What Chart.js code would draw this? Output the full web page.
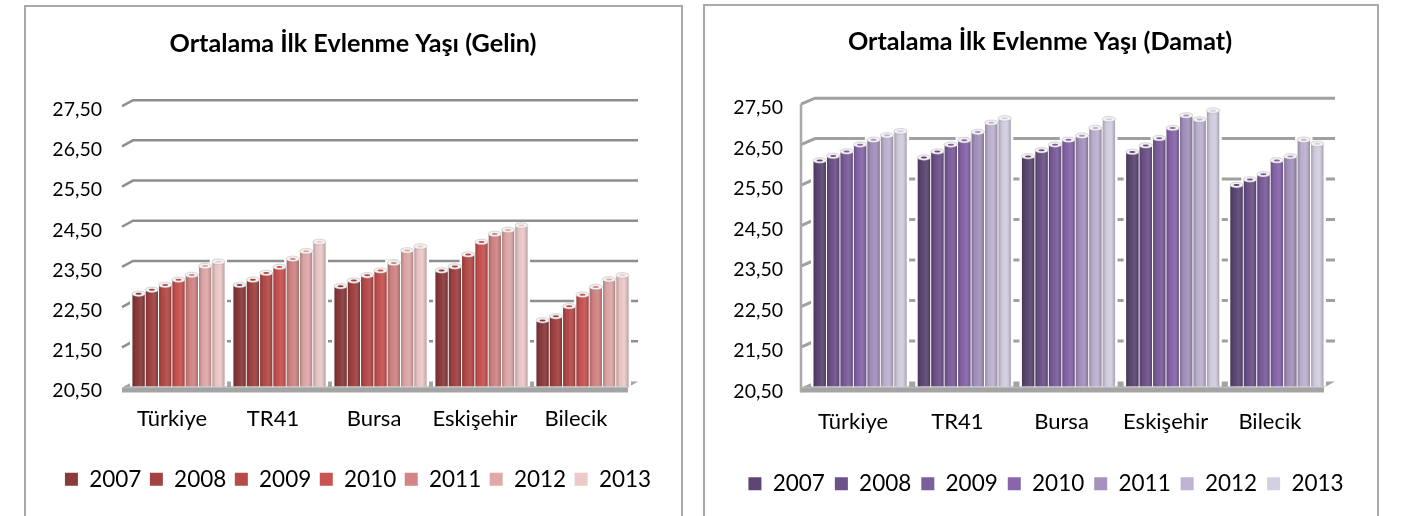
<!DOCTYPE html>
<html>
  <head>
   <meta charset='utf-8'>
   <title>Ortalama İlk Evlenme Yaşı</title>
   <script src="https://cdnjs.cloudflare.com/ajax/libs/Chart.js/4.4.1/chart.umd.min.js"></script>
   <style>
     html, body { margin: 0; padding: 0; background: #fff; overflow: hidden; }
     body { width: 1411px; height: 516px; position: relative; }
     .frame { position: absolute; box-sizing: border-box; border: 2px solid #a8a8ad; border-bottom: 0; height: 530px; }
     #frame1 { left: 24px; top: 5px; width: 659px; }
     #frame2 { left: 703px; top: 4px; width: 676px; }
     canvas { display: block; }
   </style>
  </head>
  <body>
    <div class="frame" id="frame1"><canvas id="chart_gelin" width="655" height="509"></canvas></div>
    <div class="frame" id="frame2"><canvas id="chart_damat" width="672" height="510"></canvas></div>
    <script>
      var places = ['Türkiye', 'TR41', 'Bursa', 'Eskişehir', 'Bilecik'];
      var years = ['2007', '2008', '2009', '2010', '2011', '2012', '2013'];

      var gelin2007 = [22.78, 23.00, 22.97, 23.36, 22.12];
      var gelin2008 = [22.88, 23.13, 23.11, 23.46, 22.22];
      var gelin2009 = [23.00, 23.30, 23.24, 23.76, 22.47];
      var gelin2010 = [23.13, 23.45, 23.36, 24.07, 22.76];
      var gelin2011 = [23.25, 23.65, 23.55, 24.27, 22.95];
      var gelin2012 = [23.47, 23.84, 23.86, 24.37, 23.14];
      var gelin2013 = [23.58, 24.07, 23.96, 24.48, 23.24];

      var damat2007 = [26.06, 26.13, 26.16, 26.27, 25.45];
      var damat2008 = [26.17, 26.28, 26.31, 26.43, 25.59];
      var damat2009 = [26.28, 26.45, 26.45, 26.61, 25.72];
      var damat2010 = [26.45, 26.56, 26.57, 26.86, 26.06];
      var damat2011 = [26.57, 26.76, 26.67, 27.17, 26.16];
      var damat2012 = [26.68, 26.99, 26.86, 27.07, 26.57];
      var damat2013 = [26.78, 27.10, 27.08, 27.29, 26.47];

      var redColors = ['#8b3a3a', '#a24241', '#b64b49', '#c95350', '#d28584', '#e0a9a8', '#edcaca'];
      var purpleColors = ['#5d4674', '#6d5289', '#7c5e9c', '#8766ab', '#a592bd', '#bfb3d2', '#d5cfe2'];

      var fontName = 'Lato, "Open Sans", sans-serif';

      // fake 3d: floor, back wall lines, halos and round bar tops
      var depthPlugin = {
        id: 'depth',
        beforeDatasetsDraw: function(chart, args, o) {
          var c = chart.ctx, y = chart.scales.y, a = chart.chartArea;
          var base = y.getPixelForValue(20.5);
          c.save();
          // floor
          c.fillStyle = '#a4a4a4';
          c.beginPath();
          c.moveTo(o.fl, base + o.fdy);
          c.lineTo(o.bl, base + o.bdy);
          c.lineTo(o.br, base + o.bdy);
          c.lineTo(o.fr, base + o.fdy);
          c.closePath();
          c.fill();
          c.fillRect(o.fl, base + o.fdy, o.fr - o.fl, 5);
          c.strokeStyle = o.gridColor;
          c.lineWidth = o.gridWidth;
          y.ticks.forEach(function(t) {
            var p = y.getPixelForValue(t.value);
            if (t.value > 20.5) {
              c.beginPath();
              c.moveTo(o.fl, p + o.fdy);
              c.lineTo(o.bl, p + o.bdy);
              c.lineTo(o.br, p + o.bdy);
              c.stroke();
            }
          });
          if (o.wall) {
            c.lineWidth = 2.5;
            c.strokeStyle = '#a9a9a9';
            c.beginPath();
            c.moveTo(o.fl, a.top + o.fdy);
            c.lineTo(o.fl, base + o.fdy + 5);
            c.stroke();
          }
          // white glow round the bars
          c.fillStyle = '#fff';
          chart.data.datasets.forEach(function(ds, i) {
            chart.getDatasetMeta(i).data.forEach(function(b) {
              c.fillRect(b.x - b.width / 2 - 2.5, b.y - 4, b.width + 5, b.base - b.y + 4);
            });
          });
          c.restore();
        },
        afterDatasetsDraw: function(chart) {
          var c = chart.ctx;
          c.save();
          chart.data.datasets.forEach(function(ds, i) {
            chart.getDatasetMeta(i).data.forEach(function(b) {
              var l = b.x - b.width / 2, w = b.width;
              var g = c.createLinearGradient(l, 0, l + w, 0);
              g.addColorStop(0, 'rgba(0,0,0,0.22)');
              g.addColorStop(0.3, 'rgba(0,0,0,0.02)');
              g.addColorStop(0.6, 'rgba(255,255,255,0.06)');
              g.addColorStop(1, 'rgba(0,0,0,0.24)');
              c.fillStyle = g;
              c.fillRect(l, b.y, w, b.base - b.y);
              // rim
              c.fillStyle = '#f3f1f1';
              c.strokeStyle = 'rgba(150,150,150,0.5)';
              c.lineWidth = 0.7;
              c.beginPath();
              c.ellipse(b.x, b.y - 1, w / 2 + 0.5, 2.8, 0, 0, Math.PI * 2);
              c.fill();
              c.stroke();
              c.fillStyle = ds.backgroundColor;
              c.beginPath();
              c.ellipse(b.x, b.y - 1, w / 4, 1, 0, 0, Math.PI * 2);
              c.fill();
            });
          });
          c.restore();
        },
        afterLayout: function(chart, args, o) {
          chart.legend.left += o.legendShift;
          chart.legend.right += o.legendShift;
          chart.titleBlock.left += o.titleShift;
          chart.titleBlock.right += o.titleShift;
        }
      };

      function makeChart(id, title, rows, colors, s) {
        var datasets = [];
        for (var i = 0; i < years.length; i++) {
          datasets.push({ label: years[i], data: rows[i], backgroundColor: colors[i], borderWidth: 0, base: 20.5,
            categoryPercentage: s.catPct, barPercentage: 0.92 });
        }
        return new Chart(document.getElementById(id).getContext('2d'), {
          type: 'bar',
          data: { labels: places, datasets: datasets },
          plugins: [depthPlugin],
          options: {
            responsive: false,
            animation: false,
            layout: { padding: { left: 0, right: s.padRight, top: 0, bottom: s.padBottom } },
            scales: {
              x: {
                grid: { display: false, drawTicks: false },
                border: { display: false },
                ticks: { color: '#000', font: { family: fontName, size: 22 }, padding: s.xPad, labelOffset: s.xOffset, maxRotation: 0 },
                afterFit: function(scale) { scale.height = s.xHeight; }
              },
              y: {
                min: 20.5, max: 27.5,
                grid: { display: false, drawTicks: false },
                border: { display: false },
                ticks: { stepSize: 1, color: '#000', font: { family: fontName, size: 19.5 }, padding: s.yPad, labelOffset: s.yOffset,
                  callback: function(v) { return v.toFixed(2).replace('.', ','); } },
                afterFit: function(scale) { scale.width = s.yWidth; }
              }
            },
            plugins: {
              title: { display: true, text: title, color: '#000', font: { family: fontName, size: 25.2, weight: 'bold' }, padding: { top: s.titleTop, bottom: s.titleBottom } },
              legend: { position: 'bottom', labels: { boxWidth: 13, boxHeight: 13, padding: s.legendPad, color: '#000', font: { family: fontName, size: 22.5 } } },
              tooltip: { enabled: false },
              depth: s.depth
            }
          }
        });
      }

      makeChart('chart_gelin', 'Ortalama İlk Evlenme Yaşı (Gelin)',
        [gelin2007, gelin2008, gelin2009, gelin2010, gelin2011, gelin2012, gelin2013], redColors,
        { catPct: 0.922, padRight: 48, padBottom: 15.5, xHeight: 73, xPad: 19.5, xOffset: -6.5, yWidth: 102, yPad: 26, yOffset: 4.5,
          titleTop: 21.5, titleBottom: 46.4, legendPad: 8.5,
          depth: { legendShift: 28.5, titleShift: 23.5, wall: false, gridColor: '#8e8e8e', gridWidth: 2.5, fl: 96, bl: 107, br: 612, fr: 602, fdy: 1, bdy: -5 } });

      makeChart('chart_damat', 'Ortalama İlk Evlenme Yaşı (Damat)',
        [damat2007, damat2008, damat2009, damat2010, damat2011, damat2012, damat2013], purpleColors,
        { catPct: 0.904, padRight: 48, padBottom: 11, xHeight: 76, xPad: 22, xOffset: -7, yWidth: 103, yPad: 25, yOffset: 5,
          titleTop: 20.5, titleBottom: 46.4, legendPad: 10,
          depth: { legendShift: 29, titleShift: 23, wall: true, gridColor: '#a0a0a0', gridWidth: 3, fl: 96, bl: 110, br: 630, fr: 619, fdy: 1, bdy: -5 } });
    </script>
  </body>
</html>
